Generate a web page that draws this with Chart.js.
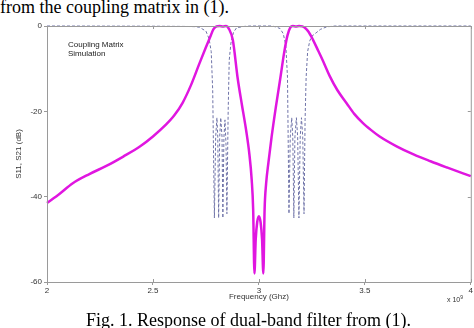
<!DOCTYPE html>
<html>
<head>
<meta charset="utf-8">
<script src="https://cdn.jsdelivr.net/npm/chart.js@4/dist/chart.umd.min.js"></script>
<style>
  body { margin: 0; width: 474px; height: 328px; overflow: hidden; background: #fff; position: relative; }
  #wrap { position: absolute; left: 0; top: 0; width: 474px; height: 328px; }
  .cap { position: absolute; font-family: "Liberation Serif", "Times New Roman", serif; font-size: 18px; color: #000; white-space: nowrap; line-height: 18px; }
  .note { position: absolute; font-family: "Liberation Sans", Arial, sans-serif; font-size: 8px; color: #222; line-height: 8.5px; }
</style>
</head>
<body>
<div class="cap" style="left:0; top:-2px;">from the coupling matrix in (1).</div>
<div id="wrap"><canvas id="chart" width="474" height="328"></canvas></div>
<div class="note" style="left:68px; top:41px;">Coupling Matrix<br>Simulation</div>
<div class="note" style="left:447px; top:293px; font-size:7px; color:#333;">x 10<sup style="font-size:5px;">9</sup></div>
<div class="cap" style="left:86px; top:311px;">Fig. 1. Response of dual-band filter from (1).</div>

<script>
// S21 (transmission)
const s21Freq = [2.00, 2.06, 2.12, 2.20, 2.28, 2.36, 2.44, 2.50, 2.56, 2.60, 2.64, 2.68, 2.72, 2.75, 2.77, 2.785,
    2.80, 2.815, 2.83, 2.845, 2.858, 2.877, 2.90, 2.92, 2.94, 2.955, 2.966, 2.973, 2.979, 2.985, 2.992, 3.00,
    3.008, 3.015, 3.021, 3.027, 3.034, 3.045, 3.06, 3.08, 3.10, 3.12, 3.135, 3.148, 3.16, 3.175, 3.19, 3.205,
    3.217, 3.235, 3.256, 3.28, 3.30, 3.335, 3.37, 3.414, 3.45, 3.49, 3.53, 3.57, 3.65, 3.73, 3.81, 3.89, 4.00];
const s21Db = [-41.5, -39.3, -36.9, -34.7, -32.8, -30.6, -28.2, -25.9, -23.2, -21.0, -18.0, -13.8, -8.7, -5.0, -2.6, -0.8,
    -0.1, 0, -0.1, 0, -0.6, -3.3, -12.3, -18.5, -24.5, -30, -36, -43, -58, -50, -46, -44.6,
    -46, -50, -58, -43, -37, -32, -26, -19, -12.6, -6, -2.2, -0.4, 0, -0.1, 0, -0.1,
    -0.4, -1.4, -3.3, -5.8, -7.9, -11.8, -15, -18.1, -20.6, -22.7, -24.4, -25.9, -28.2, -30.1, -31.7, -33.2, -35.2];

// S11 (reflection), dashed
const s11Freq = [2.00, 2.50, 2.65, 2.70, 2.72, 2.75, 2.765, 2.775, 2.782, 2.79, 2.796, 2.802, 2.806, 2.81, 2.815,
    2.82, 2.826, 2.83, 2.835, 2.84, 2.845, 2.849, 2.855, 2.86, 2.868, 2.88, 2.895, 2.93, 2.96, 3.06, 3.08,
    3.10, 3.115, 3.127, 3.135, 3.142, 3.148, 3.155, 3.16, 3.165, 3.17, 3.177, 3.183, 3.189, 3.195, 3.201,
    3.207, 3.213, 3.218, 3.223, 3.23, 3.24, 3.25, 3.27, 3.29, 3.32, 3.36, 4.00];
const s11Db = [0, -0.05, -0.1, -0.15, -0.3, -1.2, -3, -6, -15, -45, -26, -21.5, -26, -45, -26,
    -21.5, -26, -45, -26, -22, -28, -44, -20, -8, -4, -1.5, -0.4, -0.1, 0, 0, -0.2,
    -0.6, -1.8, -4.5, -12, -44, -26, -21.5, -26, -45, -26, -21.5, -26, -45, -26, -21.5,
    -26, -44, -22, -12, -6, -3.5, -2.4, -1.6, -0.8, -0.2, 0, 0];

const xTicks = [2, 2.5, 3, 3.5, 4];
const yTicks = [0, -20, -40, -60];

const toPoints = (xs, ys) => xs.map((x, i) => ({ x: x, y: ys[i] }));

// box frame with inner ticks on top and right (matlab style)
const framePlugin = {
    id: 'frame',
    afterDraw(chart) {
        const { ctx, chartArea: a, scales } = chart;
        ctx.save();
        ctx.strokeStyle = '#9a9a9a';
        ctx.lineWidth = 1;
        ctx.strokeRect(a.left + 0.5, a.top + 0.5, a.right - a.left, a.bottom - a.top);
        ctx.beginPath();
        xTicks.forEach(v => {
            const px = Math.round(scales.x.getPixelForValue(v)) + 0.5;
            ctx.moveTo(px, a.top); ctx.lineTo(px, a.top + 3);
            ctx.moveTo(px, a.bottom); ctx.lineTo(px, a.bottom - 3);
        });
        yTicks.forEach(v => {
            const py = Math.round(scales.y.getPixelForValue(v)) + 0.5;
            ctx.moveTo(a.right, py); ctx.lineTo(a.right - 3, py);
        });
        ctx.stroke();
        ctx.restore();
    }
};

const tickFont = { family: '"Liberation Sans", Arial, sans-serif', size: 8 };

new Chart(document.getElementById('chart').getContext('2d'), {
    type: 'line',
    data: {
        datasets: [{
            label: 'S21',
            data: toPoints(s21Freq, s21Db),
            borderColor: '#e016e0',
            borderWidth: 2.5,
            pointRadius: 0,
            cubicInterpolationMode: 'monotone',
            clip: false,
            order: 0
        }, {
            label: 'S11',
            data: toPoints(s11Freq, s11Db),
            borderColor: '#6f73a8',
            borderWidth: 1,
            borderDash: [3, 2],
            pointRadius: 0,
            tension: 0,
            clip: false,
            order: 1
        }]
    },
    options: {
        responsive: false,
        animation: false,
        devicePixelRatio: 1,
        layout: { padding: { top: 26, right: 3, left: 14, bottom: 26 } },
        plugins: { legend: { display: false }, tooltip: { enabled: false } },
        scales: {
            x: {
                type: 'linear',
                min: 2, max: 4,
                afterBuildTicks: s => { s.ticks = xTicks.map(v => ({ value: v })); },
                ticks: { font: tickFont, color: '#333', padding: 1, maxRotation: 0, callback: v => String(v) },
                grid: { display: true, drawOnChartArea: false, tickLength: 3, color: '#9a9a9a' },
                border: { color: '#9a9a9a' },
                title: { display: true, text: 'Frequency (Ghz)', font: tickFont, color: '#333', padding: { top: 1, bottom: 0 } },
                afterFit: s => { s.height = 20; }
            },
            y: {
                min: -60, max: 0,
                afterBuildTicks: s => { s.ticks = yTicks.map(v => ({ value: v })); },
                ticks: { font: tickFont, color: '#333', padding: 2 },
                grid: { display: true, drawOnChartArea: false, tickLength: 3, color: '#9a9a9a' },
                border: { color: '#9a9a9a' },
                title: { display: true, text: 'S11, S21 (dB)', font: tickFont, color: '#333', padding: { top: 0, bottom: 0 } },
                afterFit: s => { s.width = 33; }
            }
        }
    },
    plugins: [framePlugin]
});
</script>
</body>
</html>
